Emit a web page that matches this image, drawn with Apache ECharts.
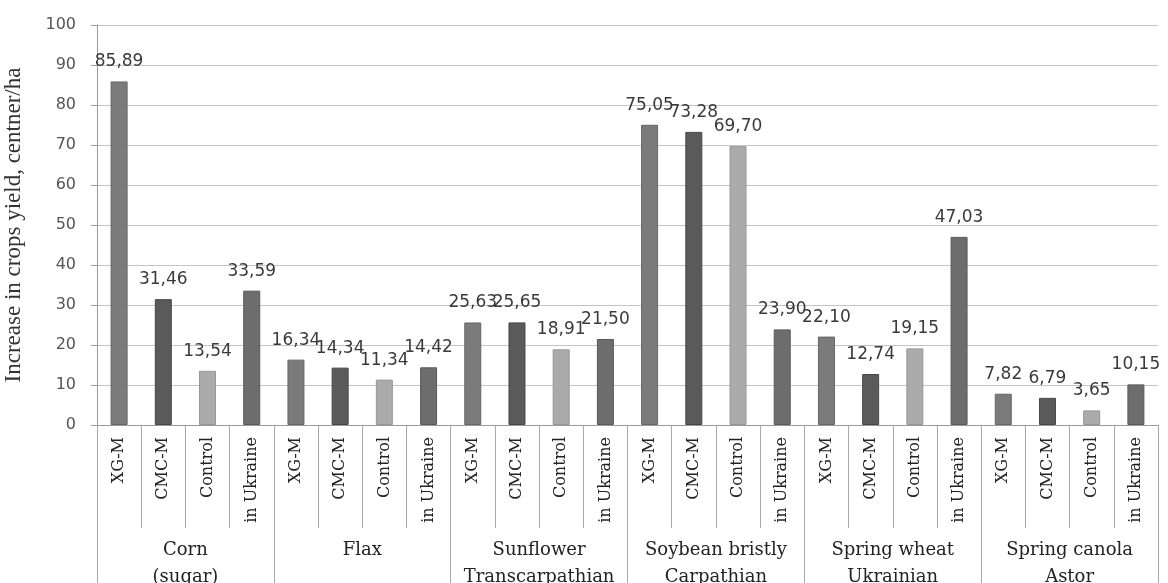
<!DOCTYPE html>
<html>
<head>
<meta charset="utf-8">
<title>Increase in crops yield</title>
<script src="https://cdn.jsdelivr.net/npm/echarts@6/dist/echarts.min.js"></script>
<style>
  html, body { margin: 0; padding: 0; background: #ffffff; }
  #chart { width: 1168px; height: 583px; }
</style>
</head>
<body>
<div id="chart"></div>
<script>
// Crop groups and the four treatments shown inside each group
const crops = [
  'Corn\n(sugar)',
  'Flax',
  'Sunflower\nTranscarpathian',
  'Soybean bristly\nCarpathian',
  'Spring wheat\nUkrainian',
  'Spring canola\nAstor'
];
const treatments = ['XG-M', 'CMC-M', 'Control', 'in Ukraine'];

// Increase in yield, centner/ha, per crop (order follows treatments)
const cornValues      = [85.89, 31.46, 13.54, 33.59];
const flaxValues      = [16.34, 14.34, 11.34, 14.42];
const sunflowerValues = [25.63, 25.65, 18.91, 21.50];
const soybeanValues   = [75.05, 73.28, 69.70, 23.90];
const wheatValues     = [22.10, 12.74, 19.15, 47.03];
const canolaValues    = [7.82, 6.79, 3.65, 10.15];

const yTicks = [0, 10, 20, 30, 40, 50, 60, 70, 80, 90, 100];

// Shade for each treatment
const treatmentColors = ['#7b7b7b', '#5a5a5a', '#ababab', '#6d6d6d'];
const treatmentBorders = ['#666666', '#474747', '#969696', '#595959'];

const groups = [cornValues, flaxValues, sunflowerValues, soybeanValues, wheatValues, canolaValues];

const subCategories = [];
const barData = [];
groups.forEach(function (vals) {
  vals.forEach(function (v, j) {
    subCategories.push(treatments[j]);
    barData.push({
      value: v,
      itemStyle: { color: treatmentColors[j], borderColor: treatmentBorders[j], borderWidth: 1 }
    });
  });
});

const chart = echarts.init(document.getElementById('chart'), null, { renderer: 'canvas' });

chart.setOption({
  animation: false,
  backgroundColor: '#ffffff',
  grid: { left: 97, right: 10, top: 25, bottom: 158, containLabel: false, outerBoundsMode: 'none' },
  xAxis: [
    {
      type: 'category',
      data: subCategories,
      position: 'bottom',
      axisLine: { show: true, lineStyle: { color: '#9a9a9a', width: 1 } },
      axisTick: { show: true, interval: 0, length: 103, lineStyle: { color: '#a8a8a8' } },
      axisLabel: {
        interval: 0,
        rotate: 90,
        margin: 12,
        fontFamily: 'DejaVu Serif',
        fontSize: 16,
        color: '#222222'
      }
    },
    {
      type: 'category',
      data: crops,
      position: 'bottom',
      axisLine: { show: false },
      axisTick: { show: true, interval: 0, length: 160, lineStyle: { color: '#a8a8a8' } },
      axisLabel: {
        interval: 0,
        margin: 112,
        fontFamily: 'DejaVu Serif',
        fontSize: 18,
        lineHeight: 27,
        color: '#222222'
      }
    }
  ],
  yAxis: {
    type: 'value',
    min: yTicks[0],
    max: yTicks[yTicks.length - 1],
    interval: 10,
    name: 'Increase in crops yield, centner/ha',
    nameLocation: 'middle',
    nameRotate: 90,
    nameGap: 72,
    nameTextStyle: { fontFamily: 'Liberation Serif', fontSize: 23, color: '#333333' },
    axisLine: { show: true, lineStyle: { color: '#9a9a9a' } },
    axisTick: { show: true, length: 6, lineStyle: { color: '#9a9a9a' } },
    axisLabel: {
      margin: 21,
      fontFamily: 'DejaVu Sans',
      fontSize: 16,
      color: '#555555'
    },
    splitLine: { show: true, lineStyle: { color: '#c4c4c4', width: 1 } }
  },
  series: [
    {
      type: 'bar',
      xAxisIndex: 0,
      data: barData,
      barWidth: 17,
      label: {
        show: true,
        position: 'top',
        distance: 11,
        fontFamily: 'DejaVu Sans',
        fontSize: 17,
        color: '#3a3a3a',
        formatter: function (p) { return p.value.toFixed(2).replace('.', ','); }
      }
    }
  ]
});
</script>
</body>
</html>
